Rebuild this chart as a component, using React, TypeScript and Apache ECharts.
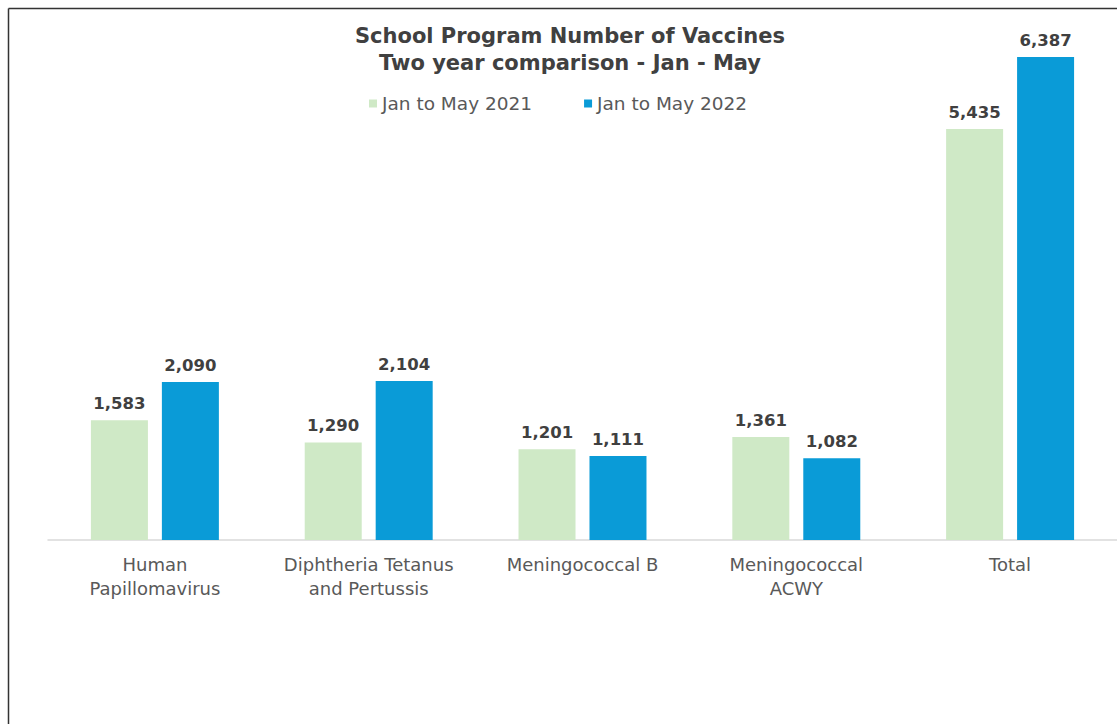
import React, { useEffect, useRef } from "react";
import * as echarts from "echarts";

const categories = [
  "Human\nPapillomavirus",
  "Diphtheria Tetanus\nand Pertussis",
  "Meningococcal B",
  "Meningococcal\nACWY",
  "Total",
];
const seriesNames = ["Jan to May 2021", "Jan to May 2022"];
const values2021 = [1583, 1290, 1201, 1361, 5435];
const values2022 = [2090, 2104, 1111, 1082, 6387];

const FONT = "'DejaVu Sans', sans-serif";

export default function App() {
  const ref = useRef<HTMLDivElement>(null);
  useEffect(() => {
    document.body.style.margin = "0";
    const chart = echarts.init(ref.current!, null, { renderer: "svg" });
    const label = {
      show: true,
      position: "top",
      distance: 8,
      color: "#404040",
      fontWeight: "bold",
      fontSize: 16.5,
      fontFamily: FONT,
      formatter: (p: any) => Number(p.value).toLocaleString("en-US"),
    };
    chart.setOption({
      animation: false,
      backgroundColor: "#ffffff",
      title: {
        text: "School Program Number of Vaccines\nTwo year comparison - Jan - May",
        left: 565,
        textAlign: "center",
        top: 17,
        textStyle: {
          color: "#404040",
          fontWeight: "bold",
          fontSize: 21,
          lineHeight: 27,
          fontFamily: FONT,
        },
      },
      legend: {
        data: seriesNames,
        top: 89,
        left: 364,
        itemWidth: 8,
        itemHeight: 8,
        itemGap: 52,
        icon: "rect",
        textStyle: { color: "#595959", fontSize: 18.5, fontFamily: FONT },
      },
      grid: { left: 48, right: -3, top: 10.7, bottom: 184 },
      xAxis: {
        type: "category",
        data: categories,
        axisLine: { lineStyle: { color: "#d9d9d9", width: 1.5 } },
        axisTick: { show: false },
        axisLabel: {
          color: "#595959",
          fontSize: 18,
          lineHeight: 24,
          margin: 12,
          fontFamily: FONT,
          interval: 0,
        },
      },
      yAxis: {
        type: "value",
        min: 0,
        max: 7000,
        show: false,
        splitLine: { show: false },
      },
      series: [
        {
          name: seriesNames[0],
          type: "bar",
          data: values2021,
          barWidth: 57,
          barGap: "24.5%",
          itemStyle: { color: "#cfe9c6" },
          label,
        },
        {
          name: seriesNames[1],
          type: "bar",
          data: values2022,
          barWidth: 57,
          barGap: "24.5%",
          itemStyle: { color: "#0a9bd7" },
          label,
        },
      ],
      graphic: [
        {
          type: "line",
          shape: { x1: 8.5, y1: 8.5, x2: 1117, y2: 8.5 },
          style: { stroke: "#333333", lineWidth: 1.5 },
        },
        {
          type: "line",
          shape: { x1: 8.5, y1: 8.5, x2: 8.5, y2: 724 },
          style: { stroke: "#333333", lineWidth: 1.5 },
        },
      ],
    });
    return () => chart.dispose();
  }, []);
  return <div ref={ref} style={{ width: 1117, height: 724 }} />;
}
